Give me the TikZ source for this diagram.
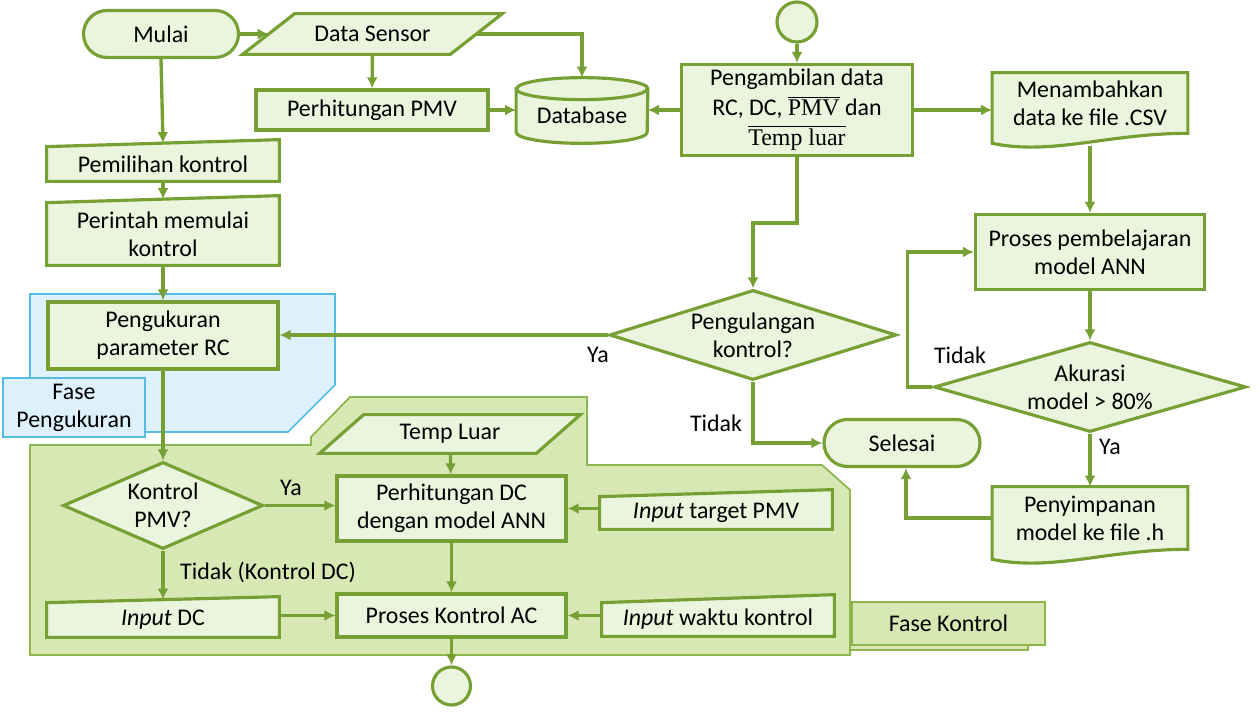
\documentclass[tikz,border=0pt]{standalone}
\usepackage{fontspec}
\setmainfont{Carlito}
\newfontfamily\mathser{Liberation Serif}
\usetikzlibrary{arrows.meta,positioning,calc,shapes.geometric}
\definecolor{Line}{HTML}{76A034}
\definecolor{Pale}{HTML}{EBF4DC}
\definecolor{Zone}{HTML}{D7E8B5}
\definecolor{ZoneLine}{HTML}{8DB64E}
\definecolor{Sky}{HTML}{DCF1FB}
\definecolor{SkyLine}{HTML}{55BCE6}
\pgfdeclarelayer{back}
\pgfsetlayers{back,main}

\begin{document}
\begin{tikzpicture}[>={Latex[length=2.2mm,width=2.2mm]}, font=\fontsize{13.6}{16}\selectfont, proc/.style={rectangle,draw=Line,fill=Pale,line width=1.8pt,align=center,inner sep=2pt}, term/.style={proc,rounded corners=4.7mm,minimum height=9.4mm}, dec/.style={diamond,draw=Line,fill=Pale,line width=1.8pt,align=center,inner sep=0pt}, conn/.style={circle,draw=Line,fill=Pale,line width=1.8pt,inner sep=0pt}, bare/.style={rectangle,align=center,inner sep=2pt}, outline/.style={draw=Line,fill=Pale,line width=1.8pt}, arc/.style={->,draw=Line,line width=1.9pt}, tag/.style={rectangle,align=center,line width=0.9pt}]
\useasboundingbox (0,0) rectangle (25.2,14.24);
% phase areas
\begin{pgfonlayer}{back}
\filldraw[draw=SkyLine,fill=Sky,line width=0.9pt] (0.60,8.36) -- (6.70,8.36) -- (6.70,6.54) -- (5.76,5.60) -- (0.60,5.60) -- cycle;
\filldraw[draw=ZoneLine,fill=Zone,line width=1pt] (0.60,5.34) -- (6.22,5.34) -- (6.22,5.50) -- (7.00,6.30) -- (11.74,6.30) -- (11.74,4.94) -- (16.44,4.94) -- (17.00,4.44) -- (17.00,1.14) -- (0.60,1.14) -- cycle;
\filldraw[draw=ZoneLine,fill=Zone,line width=1pt] (17.00,2.12) rectangle (20.56,1.24);
\end{pgfonlayer}
\node[tag,draw=SkyLine,fill=Sky,minimum width=2.84cm,minimum height=1.18cm] (faseukur) at (1.48,6.09) {Fase\\Pengukuran};
\node[tag,draw=ZoneLine,fill=Zone,minimum width=3.86cm,minimum height=0.86cm] (fasekon) at (18.97,1.77) {Fase Kontrol};
% steps
\node[term,minimum width=3.1cm] (mulai) at (3.22,13.56) {Mulai};
\node[bare,minimum width=4.14cm,minimum height=0.8cm] (sensor) at (7.45,13.56) {Data Sensor};
\node[proc,minimum width=4.64cm,minimum height=0.8cm] (pmv) at (7.44,12.04) {Perhitungan PMV};
\node[bare,minimum width=2.62cm,minimum height=1.3cm] (db) at (11.64,12.03) {\raisebox{-2.7mm}[0pt][0pt]{Database}};
\node[conn,minimum size=0.8cm] (atas) at (15.94,13.80) {};
\node[proc,minimum width=4.62cm,minimum height=1.82cm,font=\fontsize{13.6}{17}\selectfont] (ambil) at (15.94,12.04) {Pengambilan data\\RC, DC, $\overline{\mbox{\mathser PMV}}$ dan\\$\overline{\mbox{\mathser Temp luar}}$};
\node[bare,minimum width=3.9cm,minimum height=1.2cm] (csv) at (21.80,12.18) {Menambahkan\\data ke file .CSV};
\node[proc,minimum width=4.58cm,minimum height=1.5cm] (latih) at (21.80,9.20) {Proses pembelajaran\\model ANN};
\node[dec,aspect=3.47,minimum width=6.24cm,minimum height=1.8cm] (akurasi) at (21.80,6.50) {Akurasi\\model > 80\%};
\node[bare,minimum width=3.9cm,minimum height=1.24cm] (simpan) at (21.80,3.88) {Penyimpanan\\model ke file .h};
\node[term,minimum width=3.12cm] (selesai) at (18.04,5.38) {Selesai};
\node[dec,aspect=3.19,minimum width=5.74cm,minimum height=1.8cm] (ulang) at (15.06,7.54) {Pengulangan\\kontrol?};
\node[bare,minimum width=4.64cm,minimum height=0.68cm] (pilih) at (3.26,10.96) {Pemilihan kontrol};
\node[bare,minimum width=4.64cm,minimum height=1.24cm] (mulaik) at (3.26,9.56) {Perintah memulai\\kontrol};
\node[proc,minimum width=4.6cm,minimum height=1.34cm] (ukur) at (3.26,7.53) {Pengukuran\\parameter RC};
\node[dec,aspect=2.3,minimum width=4.0cm,minimum height=1.74cm] (kpmv) at (3.26,4.13) {Kontrol\\PMV?};
\node[bare,minimum width=4.64cm,minimum height=0.68cm] (idc) at (3.26,1.84) {\textit{Input} DC};
\node[bare,minimum width=4.32cm,minimum height=0.76cm] (luar) at (9.00,5.56) {Temp Luar};
\node[proc,minimum width=4.58cm,minimum height=1.3cm] (hitdc) at (9.03,4.07) {Perhitungan DC\\dengan model ANN};
\node[proc,minimum width=4.58cm,minimum height=0.86cm] (kontrolac) at (9.03,1.93) {Proses Kontrol AC};
\node[bare,minimum width=4.64cm,minimum height=0.64cm] (itarget) at (14.32,3.98) {\textit{Input} target PMV};
\node[bare,minimum width=4.64cm,minimum height=0.66cm] (iwaktu) at (14.36,1.85) {\textit{Input} waktu kontrol};
\node[conn,minimum size=0.76cm] (bawah) at (9.03,0.52) {};
% outlines of the special shapes
\begin{pgfonlayer}{back}
\foreach \nm/\dx in {sensor/5.2mm,luar/4.4mm}
  \filldraw[outline] ([xshift=-\dx]\nm.south west) -- ([xshift=\dx]\nm.north west) -- ([xshift=\dx]\nm.north east) -- ([xshift=-\dx]\nm.south east) -- cycle;
\foreach \nm/\dx in {pilih/1.4mm,mulaik/1.4mm,idc/1.2mm,itarget/1.4mm,iwaktu/1.6mm}
  \filldraw[outline] (\nm.south west) -- (\nm.north west) -- ([yshift=\dx]\nm.north east) -- (\nm.south east) -- cycle;
\foreach \nm in {csv,simpan}
  \filldraw[outline] (\nm.south east) -- (\nm.north east) -- (\nm.north west) -- ([yshift=-2mm]\nm.south west) .. controls +(1.2,-0.25) and +(-1.6,0) .. (\nm.south east) -- cycle;
\filldraw[outline] ([yshift=-2.2mm]db.north west) -- ([yshift=2.2mm]db.south west) arc[start angle=180,end angle=360,x radius=1.31cm,y radius=2.2mm] -- ([yshift=-2.2mm]db.north east) arc[start angle=0,end angle=180,x radius=1.31cm,y radius=2.2mm] -- cycle;
\draw[outline,fill=none] ([yshift=-2.2mm]db.north west) arc[start angle=180,end angle=360,x radius=1.31cm,y radius=2.2mm];
\end{pgfonlayer}
% flow
\draw[arc] (mulai) -- (sensor);
\draw[arc] (sensor.east) -| (db.north);
\draw[arc] (sensor) -- (pmv);
\draw[arc] (pmv.east) -- (pmv.east -| db.west);
\draw[arc] (ambil.west) -- (ambil.west -| db.east);
\draw[arc] (atas) -- (ambil);
\draw[arc] (ambil.east) -- (ambil.east -| csv.west);
\draw[arc] (ambil.south) -- ++(0,-1.32) -| (ulang.north);
\draw[arc] ([yshift=-2.6mm]csv.south) -- (latih);
\draw[arc] (latih) -- (akurasi);
\draw[arc] (akurasi.west) -- ++(-0.5,0) |- (latih.west);
\draw[arc] (akurasi) -- (simpan);
\draw[arc] (simpan.west) -| ([xshift=0.08cm]selesai.south);
\draw[arc] (ulang.south) |- (selesai.west);
\draw[arc] (ulang.west) -- (ulang.west -| ukur.east);
\draw[arc] (mulai.south) -- ([yshift=0.7mm]pilih.north);
\draw[arc] (pilih) -- ([yshift=0.7mm]mulaik.north);
\draw[arc] (mulaik) -- (ukur);
\draw[arc] (ukur) -- (kpmv);
\draw[arc] (kpmv.east) -- (kpmv.east -| hitdc.west);
\draw[arc] (kpmv) -- ([yshift=0.6mm]idc.north);
\draw[arc] (kontrolac.west -| idc.east) -- (kontrolac.west);
\draw[arc] (luar) -- (hitdc);
\draw[arc] (itarget.west |- hitdc.east) -- (hitdc.east);
\draw[arc] (iwaktu.west |- kontrolac.east) -- (kontrolac.east);
\draw[arc] (hitdc) -- (kontrolac);
\draw[arc] (kontrolac) -- (bawah);
% branch labels
\node (ya1) at (5.82,4.48) {Ya};
\node[anchor=west] (tidak1) at (3.48,2.80) {Tidak (Kontrol DC)};
\node (ya2) at (11.96,7.14) {Ya};
\node (tidak2) at (14.32,5.78) {Tidak};
\node (tidak3) at (19.20,7.14) {Tidak};
\node (ya3) at (22.20,5.30) {Ya};
\end{tikzpicture}
\end{document}
